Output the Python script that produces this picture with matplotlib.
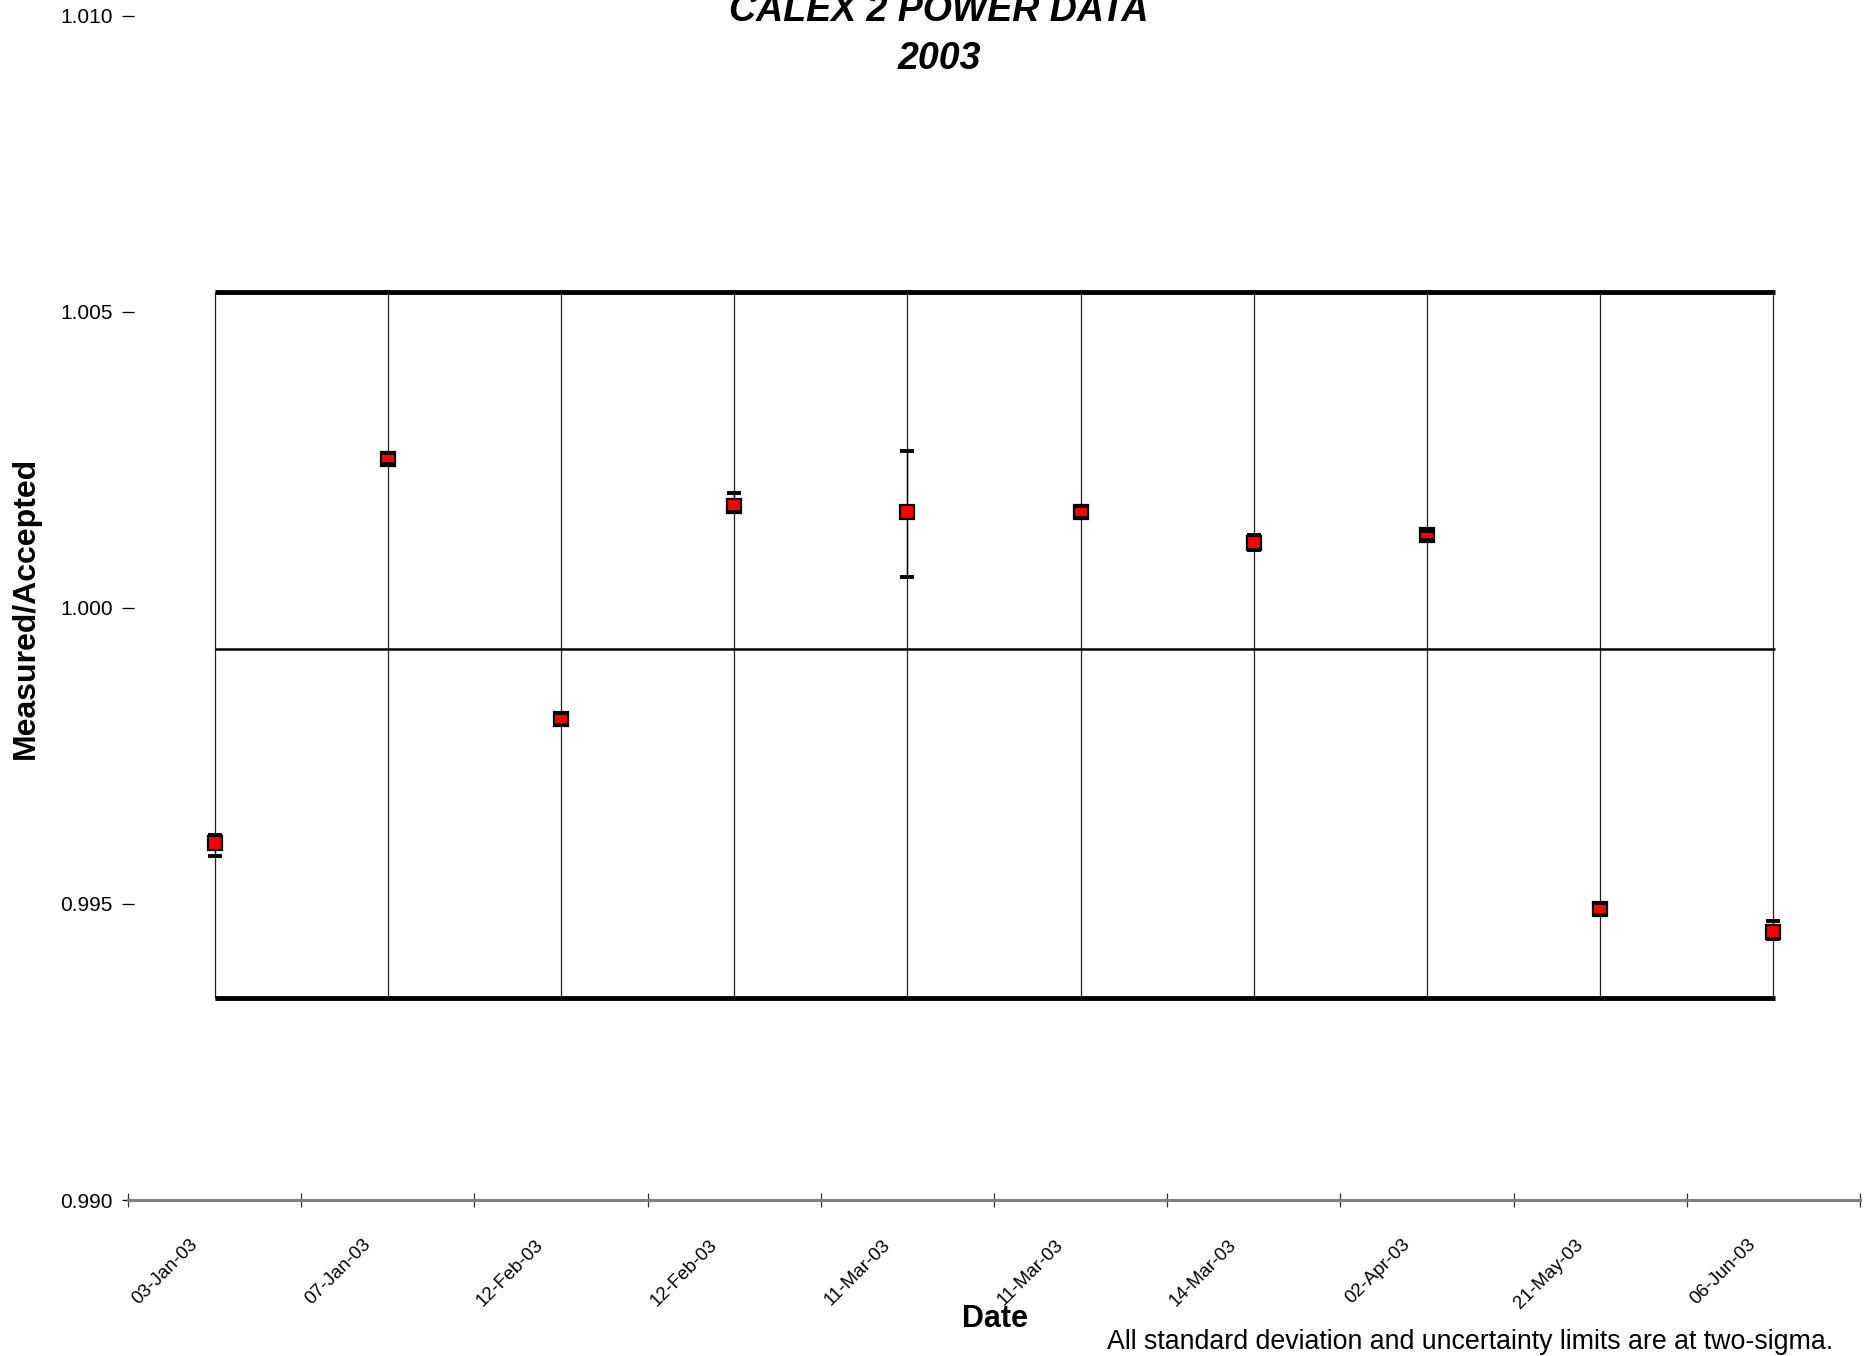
import matplotlib
matplotlib.use("Agg")
import matplotlib.pyplot as plt
import matplotlib.transforms as mtransforms
import numpy as np

plt.rcParams['font.family'] = ['Liberation Sans', 'DejaVu Sans']

# data
dates = ['03-Jan-03', '07-Jan-03', '12-Feb-03', '12-Feb-03', '11-Mar-03',
         '11-Mar-03', '14-Mar-03', '02-Apr-03', '21-May-03', '06-Jun-03']
ratio = [0.99603, 1.00252, 0.99812, 1.00171, 1.00162,
         1.00162, 1.00110, 1.00122, 0.99492, 0.99452]
err_low = [0.00022, 0.00010, 0.00010, 0.00010, 0.00110,
           0.00010, 0.00013, 0.00007, 0.00010, 0.00012]
err_high = [0.00014, 0.00010, 0.00010, 0.00022, 0.00103,
            0.00010, 0.00013, 0.00007, 0.00010, 0.00019]
mean_value = 0.99931
upper_limit = 1.00533
lower_limit = 0.99341
yticks = [0.990, 0.995, 1.000, 1.005, 1.010]

W, H = 1870, 1356
fig = plt.figure(figsize=(W / 100, H / 100), dpi=100)
ax = fig.add_axes([128 / W, (H - 1200) / H, (1860 - 128) / W, (1200 - 15.5) / H])

x = np.arange(len(dates))

# limit lines and mean, spanning first to last point
ax.hlines([upper_limit, lower_limit], x[0], x[-1] + 0.01, colors='black', lw=3.5, zorder=2)
ax.hlines(mean_value, x[0], x[-1] + 0.01, colors='black', lw=1.8, zorder=2)
ax.vlines(x, lower_limit, upper_limit, colors='#222222', lw=0.9, zorder=1)

eb = ax.errorbar(x, ratio, yerr=[err_low, err_high], fmt='none', ecolor='black',
                 elinewidth=1, capsize=5, capthick=2.8, zorder=4)
for bar in eb[2]:
    bar.set_zorder(2.5)
ax.plot(x, ratio, 's', mfc='red', mec='black', ms=10, mew=1.6, zorder=3)

ax.set_xlim(-0.5, len(dates) - 0.5)
ax.set_ylim(0.990, 1.010)

for s in ['left', 'top', 'right']:
    ax.spines[s].set_visible(False)
ax.spines['bottom'].set_color('#808080')
ax.spines['bottom'].set_linewidth(2.2)

ax.set_yticks(yticks)
ax.set_yticklabels(['%.3f' % v for v in yticks])
ax.tick_params(axis='y', direction='inout', length=8, width=0.9, pad=7,
               labelsize=15, colors='black')

ax.set_xticks(x)
ax.set_xticks(np.arange(-0.5, len(dates)), minor=True)
ax.tick_params(axis='x', which='major', length=0, pad=26)
ax.tick_params(axis='x', which='minor', direction='inout', length=10, width=0.9,
               color='#333333')
ax.set_xticklabels(dates, rotation=45, ha='right', rotation_mode='anchor',
                   fontsize=13.5)
shift = mtransforms.ScaledTranslation(-0.26, 0, fig.dpi_scale_trans)
for lbl in ax.get_xticklabels():
    lbl.set_transform(lbl.get_transform() + shift)

fig.text(939 / W, 1 - 21 / H, 'CALEX 2 POWER DATA', ha='center', va='baseline',
         fontsize=27, fontweight='bold', fontstyle='italic')
fig.text(939 / W, 1 - 69 / H, '2003', ha='center', va='baseline',
         fontsize=27, fontweight='bold', fontstyle='italic')
fig.text(26 / W, 1 - 608 / H, 'Measured/Accepted', rotation=90, ha='center',
         va='center', fontsize=23, fontweight='bold')
fig.text(995 / W, 1 - 1319 / H, 'Date', ha='center', va='center',
         fontsize=22, fontweight='bold')
fig.text(1107 / W, 1 - 1342 / H, 'All standard deviation and uncertainty limits are at two-sigma.',
         ha='left', va='center', fontsize=19.3)

fig.savefig('out.png', dpi=100)
